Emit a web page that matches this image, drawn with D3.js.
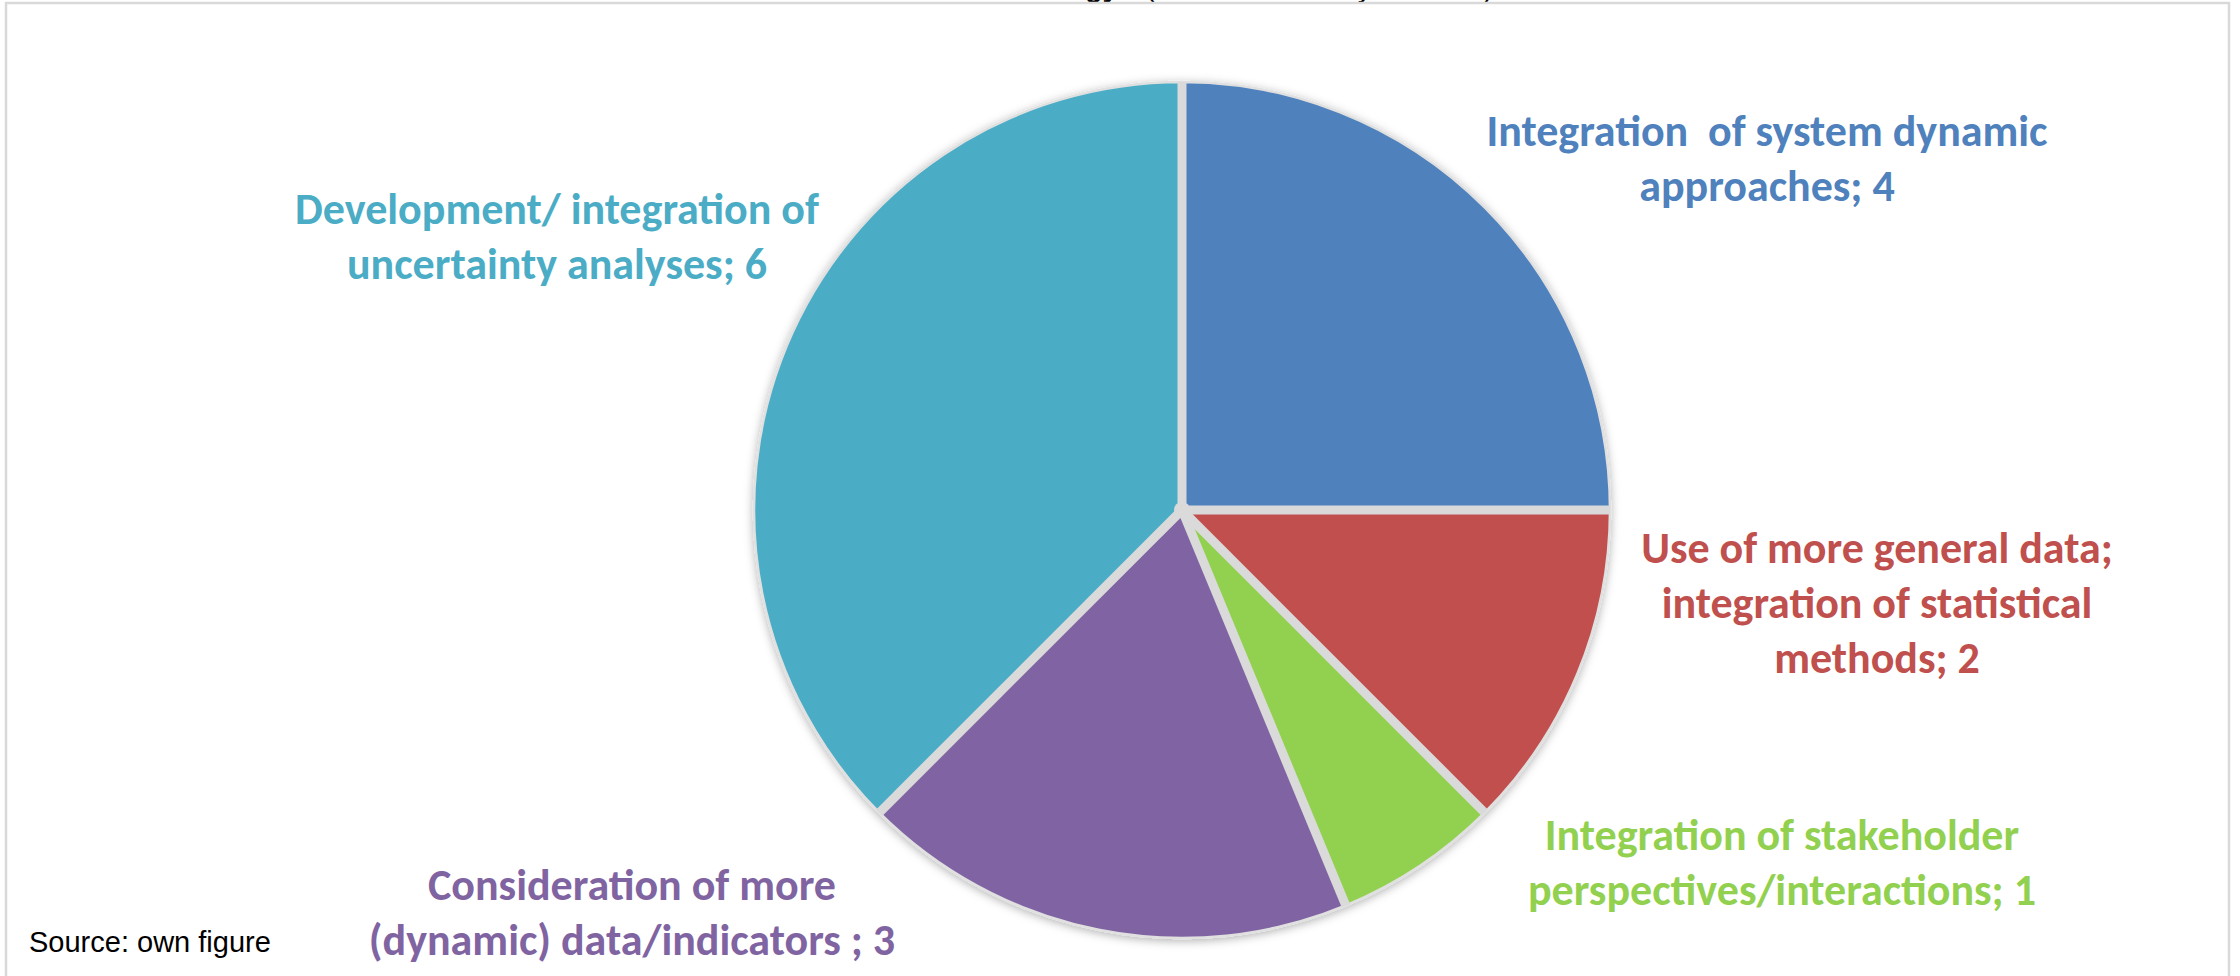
<!DOCTYPE html>
<html>
<head>
<meta charset="utf-8">
<script src="https://cdn.jsdelivr.net/npm/d3@7"></script>
<style>
  html, body { margin: 0; padding: 0; background: #fff; overflow: hidden; }
</style>
</head>
<body>
<div id="chart"></div>
<script>
var width = 2240,
    height = 976

// categories, label text split the way the chart wraps it
var categoryLines = [
  ["Integration  of system dynamic", "approaches"],
  ["Use of more general data;", "integration of statistical", "methods"],
  ["Integration of stakeholder", "perspectives/interactions"],
  ["Consideration of more", "(dynamic) data/indicators "],
  ["Development/ integration of", "uncertainty analyses"]
];
var counts = [4, 2, 1, 3, 6];
var colors = ["#4f81bd", "#c0504d", "#92d050", "#8064a2", "#4bacc6"];

// where each label block sits (centre x, first baseline)
var labelPos = [[1767, 146], [1877, 563], [1782, 850], [632, 900], [557, 224]];

var cx = 1182, cy = 510, radius = 428;

var svg = d3.select("#chart").append("svg")
    .attr("width", width)
    .attr("height", height);

var defs = svg.append("defs");
var shadow = defs.append("filter")
    .attr("id", "shadow")
    .attr("x", "-20%").attr("y", "-20%")
    .attr("width", "140%").attr("height", "140%");
shadow.append("feDropShadow")
    .attr("dx", 0)
    .attr("dy", 2)
    .attr("stdDeviation", 5)
    .attr("flood-color", "#000")
    .attr("flood-opacity", 0.3);

// title, mostly cut off by the top of the picture
var title = svg.append("text")
    .attr("y", -3)
    .style("font-family", "'Liberation Sans', Arial, sans-serif")
    .style("font-size", "28px")
    .style("fill", "#000");
title.append("tspan")
    .attr("x", 1118)
    .attr("text-anchor", "end")
    .style("font-weight", "bold")
    .text("Further needs of the methodology");
title.append("tspan")
    .attr("x", 1146)
    .text("(number of survey answers)");

// frame
svg.append("rect")
    .attr("x", 6)
    .attr("y", 3)
    .attr("width", 2223)
    .attr("height", 1100)
    .style("fill", "none")
    .style("stroke", "#d9d9d9")
    .style("stroke-width", 2.5);

var pie = d3.pie()
    .sort(null)
    .value(d => d);

var arc = d3.arc()
    .innerRadius(0)
    .outerRadius(radius);

var arcs = pie(counts);

var g = svg.append("g")
    .attr("transform", "translate(" + cx + "," + cy + ")")
    .attr("filter", "url(#shadow)");

g.selectAll(".slice")
    .data(arcs)
    .enter()
    .append("path")
    .attr("class", "slice")
    .attr("d", arc)
    .style("fill", (d, i) => colors[i])
    .style("stroke", "#e0e0e0")
    .style("stroke-width", 2.5);

// light gaps between the slices
g.selectAll(".sep")
    .data(arcs)
    .enter()
    .append("line")
    .attr("class", "sep")
    .attr("x1", 0)
    .attr("y1", 0)
    .attr("x2", d => radius * Math.sin(d.startAngle))
    .attr("y2", d => -radius * Math.cos(d.startAngle))
    .style("stroke", "#dadada")
    .style("stroke-width", 9);

g.append("circle")
    .attr("r", 8)
    .style("fill", "#dadada");

var labels = svg.selectAll(".label")
    .data(categoryLines)
    .enter()
    .append("text")
    .attr("class", "label")
    .attr("text-anchor", "middle")
    .style("font-family", "Carlito, Calibri, Lato, sans-serif")
    .style("font-weight", "bold")
    .style("font-size", "44px")
    .style("white-space", "pre")
    .style("fill", (d, i) => colors[i]);

labels.each(function(lines, i) {
  var t = d3.select(this);
  lines.forEach(function(line, j) {
    var txt = j == lines.length - 1 ? line + "; " + counts[i] : line;
    t.append("tspan")
      .attr("x", labelPos[i][0])
      .attr("y", labelPos[i][1] + j * 55)
      .text(txt);
  });
});

svg.append("text")
    .attr("x", 29)
    .attr("y", 952)
    .style("font-family", "'Liberation Sans', Arial, sans-serif")
    .style("font-size", "29px")
    .style("fill", "#000")
    .text("Source: own figure");
</script>
</body>
</html>
